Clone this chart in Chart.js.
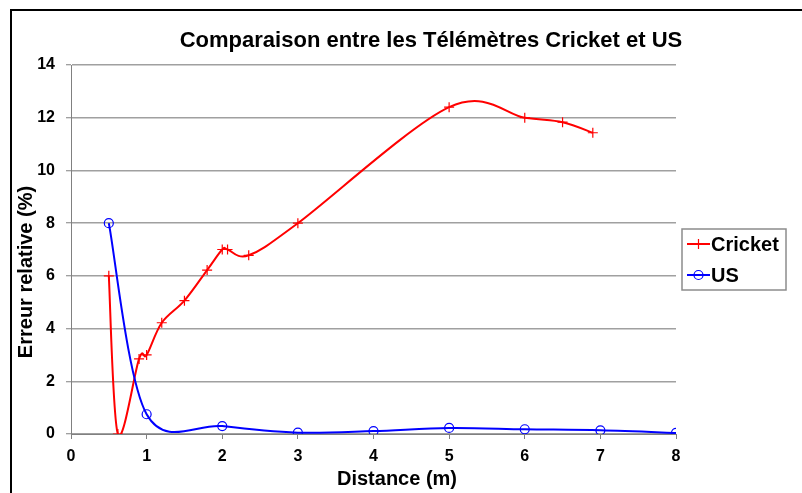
<!DOCTYPE html>
<html>
<head>
<meta charset="utf-8">
<script src="https://cdn.jsdelivr.net/npm/chart.js@4/dist/chart.umd.min.js"></script>
<style>
  html, body { margin: 0; padding: 0; background: #fff; }
  canvas { display: block; }
</style>
</head>
<body>
<canvas id="chart" width="802" height="493"></canvas>
<script>
// Values
const chartTitle = 'Comparaison entre les Télémètres Cricket et US';
const xTitle = 'Distance (m)';
const yTitle = 'Erreur relative (%)';

const cricketDist = [0.5, 0.62, 0.9, 1.0, 1.2, 1.5, 1.8, 2.0, 2.07, 2.35, 3.0, 5.0, 6.0, 6.5, 6.9];
const cricketErr  = [6.0, 0.0, 2.85, 3.0, 4.22, 5.06, 6.22, 7.0, 7.0, 6.78, 8.0, 12.4, 12.0, 11.83, 11.43];

const usDist = [0.5, 1, 2, 3, 4, 5, 6, 7, 8];
const usErr  = [8.0, 0.75, 0.3, 0.05, 0.11, 0.23, 0.18, 0.14, 0.04];

const xTicks = [0, 1, 2, 3, 4, 5, 6, 7, 8];
const yTicks = [0, 2, 4, 6, 8, 10, 12, 14];

const FONT = "'Liberation Sans', Arial, sans-serif";
const GRID = '#a0a0a0';
const AXIS = '#808080';

const toPoints = (xs, ys) => xs.map((x, i) => ({ x, y: ys[i] }));

/**
 * Spreadsheet-style smoothing: uniform Catmull-Rom tangents (1/6 of the
 * neighbour chord), replacing Chart.js' distance-weighted control points.
 */
const smoothLines = {
  id: 'smoothLines',
  beforeDatasetDraw(chart, args) {
    const line = args.meta.dataset;
    const pts = args.meta.data;
    if (!line || pts.length < 2) return;
    line.updateControlPoints(chart.chartArea, 'x');
    const f = 1 / 6;
    pts.forEach((p, i) => {
      const prev = pts[Math.max(i - 1, 0)];
      const next = pts[Math.min(i + 1, pts.length - 1)];
      const dx = (next.x - prev.x) * f;
      const dy = (next.y - prev.y) * f;
      p.cp1x = p.x - dx; p.cp1y = p.y - dy;
      p.cp2x = p.x + dx; p.cp2y = p.y + dy;
    });
    delete line._path;
  }
};

/**
 * Draws the outer frame, title, axis titles and the boxed legend.
 */
const decorations = {
  id: 'decorations',
  afterDraw(chart) {
    const ctx = chart.ctx;
    ctx.save();

    // outer frame (runs off the right and bottom edge)
    ctx.strokeStyle = '#000';
    ctx.lineWidth = 2;
    ctx.strokeRect(11, 10, 900, 600);

    ctx.fillStyle = '#000';
    ctx.textAlign = 'center';
    ctx.textBaseline = 'alphabetic';
    ctx.font = `bold 22px ${FONT}`;
    ctx.fillText(chartTitle, 431, 47);

    ctx.font = `bold 20px ${FONT}`;
    ctx.textBaseline = 'middle';
    ctx.fillText(xTitle, 397, 479);

    ctx.save();
    ctx.translate(26, 272);
    ctx.rotate(-Math.PI / 2);
    ctx.fillText(yTitle, 0, 0);
    ctx.restore();

    // legend box
    const lx = 682, ly = 229, lw = 104, lh = 61;
    ctx.strokeStyle = '#8c8c8c';
    ctx.lineWidth = 1.5;
    ctx.strokeRect(lx, ly, lw, lh);

    chart.data.datasets.forEach((ds, i) => {
      const y = ly + 15 + i * 31;
      ctx.strokeStyle = ds.borderColor;
      ctx.lineWidth = 2;
      ctx.beginPath();
      ctx.moveTo(lx + 5, y);
      ctx.lineTo(lx + 28, y);
      ctx.stroke();
      ctx.fillStyle = 'rgba(255,255,255,0)';
      ctx.lineWidth = 1.2;
      Chart.helpers.drawPoint(ctx, {
        pointStyle: ds.pointStyle, radius: ds.pointRadius, borderWidth: 1.2, rotation: 0
      }, lx + 16.5, y);
      ctx.fillStyle = '#000';
      ctx.textAlign = 'left';
      ctx.font = `bold 20px ${FONT}`;
      ctx.fillText(ds.label, lx + 29, y + 1);
    });

    ctx.restore();
  }
};

new Chart(document.getElementById('chart'), {
  type: 'scatter',
  data: {
    datasets: [
      {
        label: 'Cricket',
        data: toPoints(cricketDist, cricketErr),
        showLine: true,
        borderColor: '#ff0000',
        backgroundColor: 'transparent',
        borderWidth: 2,
        pointStyle: 'cross',
        pointRadius: 5,
        pointBorderWidth: 1.2,
        tension: 0.4,
        capBezierPoints: false,
        order: 2,
      },
      {
        label: 'US',
        data: toPoints(usDist, usErr),
        showLine: true,
        borderColor: '#0000ff',
        backgroundColor: 'transparent',
        borderWidth: 2,
        pointStyle: 'circle',
        pointRadius: 4.5,
        pointBorderWidth: 1.2,
        tension: 0.4,
        capBezierPoints: false,
        order: 1,
      },
    ],
  },
  options: {
    responsive: false,
    animation: false,
    layout: { padding: { left: 0, top: 65, right: 126, bottom: 0 } },
    plugins: {
      legend: { display: false },
      title: { display: false },
      tooltip: { enabled: false },
    },
    scales: {
      x: {
        type: 'linear',
        min: xTicks[0],
        max: xTicks[xTicks.length - 1],
        afterFit: s => { s.height = 59; },
        afterBuildTicks: s => { s.ticks = xTicks.map(v => ({ value: v })); },
        ticks: { color: '#000', padding: 8, font: { family: FONT, size: 16, weight: 'bold' } },
        grid: { drawOnChartArea: false, drawTicks: true, tickLength: 5, color: AXIS },
        border: { color: AXIS, width: 1 },
      },
      y: {
        type: 'linear',
        min: yTicks[0],
        max: yTicks[yTicks.length - 1],
        afterFit: s => { s.width = 71; },
        afterBuildTicks: s => { s.ticks = yTicks.map(v => ({ value: v })); },
        ticks: { color: '#000', padding: 11, font: { family: FONT, size: 16, weight: 'bold' } },
        grid: { color: GRID, lineWidth: 1.5, tickLength: 5, tickColor: AXIS, tickWidth: 1 },
        border: { color: AXIS, width: 1 },
      },
    },
  },
  plugins: [smoothLines, decorations],
});
</script>
</body>
</html>
